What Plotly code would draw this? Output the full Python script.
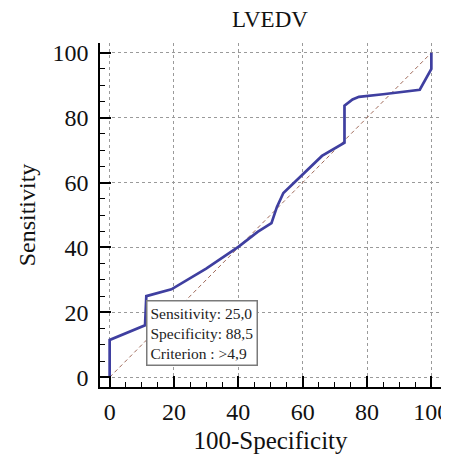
import plotly.graph_objects as go

# ROC curve (100-Specificity, Sensitivity)
fpr = [0, 0, 11.0, 11.4, 19.2, 30.0, 40.0, 46.0, 50.3, 52.0, 54.0, 60.0, 66.0, 73.0, 73.0, 75.5, 77.5, 85.0, 96.4, 100, 100]
tpr = [0, 11.5, 16.0, 25.0, 27.1, 33.5, 40.2, 44.8, 47.5, 52.5, 56.8, 62.5, 68.2, 72.3, 83.7, 85.6, 86.4, 87.2, 88.6, 95.0, 100]
diag_x = [0, 100]
diag_y = [0, 100]
tick_vals = [0, 20, 40, 60, 80, 100]
title_text = "LVEDV"
x_title = "100-Specificity"
y_title = "Sensitivity"
box_lines = ["Sensitivity: 25,0", "Specificity: 88,5", "Criterion : >4,9"]

FONT = "Liberation Serif"

fig = go.Figure()
fig.add_trace(go.Scatter(x=diag_x, y=diag_y, mode="lines",
                         line=dict(color="#a06a5a", width=1, dash="4px,3px"),
                         hoverinfo="skip", showlegend=False))
fig.add_trace(go.Scatter(x=fpr, y=tpr, mode="lines",
                         line=dict(color="#3f3fa0", width=2.7),
                         showlegend=False))

axis_common = dict(
    range=[-3, 103], tickvals=tick_vals, showline=True, linecolor="black", linewidth=1.6,
    ticks="inside", ticklen=11, tickwidth=1.5, tickcolor="black",
    minor=dict(dtick=5, tick0=0, ticks="inside", ticklen=5, tickwidth=1.2, tickcolor="black", showgrid=False),
    showgrid=True, gridcolor="#9a9a9a", gridwidth=1, griddash="3px,3px",
    zeroline=False, tickfont=dict(family=FONT, size=24, color="#111"),
    mirror=False, fixedrange=True, automargin=False, ticklabeloverflow="allow",
)

fig.update_xaxes(**axis_common, title=dict(text=x_title, font=dict(family=FONT, size=25, color="#111"), standoff=8),
                 ticklabelstandoff=2)
fig.update_yaxes(**axis_common, title=dict(text=y_title, font=dict(family=FONT, size=24, color="#111"), standoff=10),
                 ticklabelstandoff=5)

fig.add_annotation(x=11.3, y=23.8, xref="x", yref="y", xanchor="left", yanchor="top",
                   text="<br>".join(box_lines), showarrow=False, align="left",
                   font=dict(family=FONT, size=15.5, color="#222"),
                   bgcolor="white", bordercolor="#7a7a7a", borderwidth=1.5, borderpad=3)

# the page adds an 8px body margin, so the figure is laid out 8px smaller
fig.update_layout(
    width=441, height=451,
    margin=dict(l=92, r=8, t=35, b=72),
    paper_bgcolor="white", plot_bgcolor="white",
    title=dict(text=title_text, x=0.594, xanchor="center", y=0.976, yanchor="middle",
               font=dict(family=FONT, size=23, color="#111")),
    showlegend=False,
)

fig.write_html("out.html")
